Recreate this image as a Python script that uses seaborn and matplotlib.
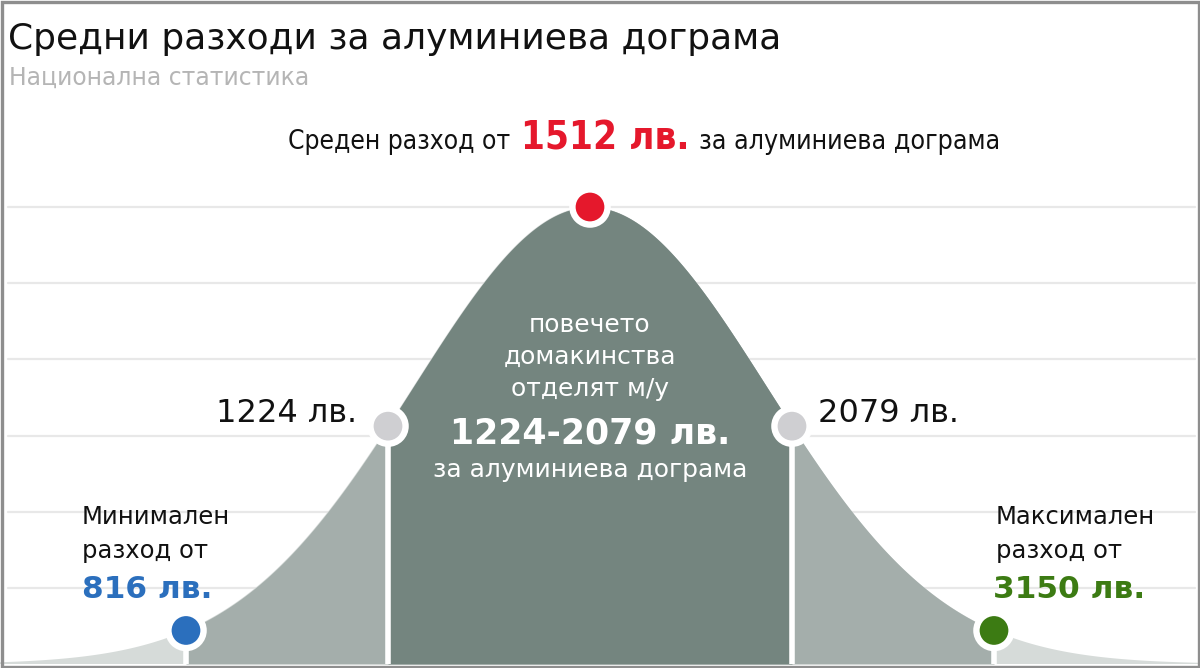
import numpy as np
import matplotlib.pyplot as plt
import seaborn as sns
from matplotlib.patches import Rectangle

# ---- data ----
title = 'Средни разходи за алуминиева дограма'
subtitle = 'Национална статистика'
point_names = ['min', 'low', 'mean', 'high', 'max']
amounts = [816, 1224, 1512, 2079, 3150]          # лв.
band_pos = [-2, -1, 0, 1, 2]                      # where each amount sits on the bell (bands from the middle)
dot_colors = ['#2b6fbd', '#cfcfd2', '#e5182c', '#cfcfd2', '#3c7b13']
bell_spread = 0.875                               # width of the drawn bell, in bands
grid_levels = [1/6, 2/6, 3/6, 4/6, 5/6, 1.0]

W, H = 1200, 668

sns.set_theme(style='white')
plt.rcParams['font.family'] = ['DejaVu Sans']


def bell(x):
    return np.exp(-np.asarray(x, dtype=float) ** 2 / (2 * bell_spread ** 2))


fig = plt.figure(figsize=(W / 100, H / 100), dpi=100)
fig.patch.set_facecolor('white')

# axes over the whole figure: middle of the bell at x=590px, one band = 202px
ax = fig.add_axes([0, 0, 1, 1])
ax.set_xlim(-590 / 202, (W - 590) / 202)
ax.set_ylim(-4 / 457, (H - 4) / 457)
ax.axis('off')

for g in grid_levels:
    ax.axhline(g, xmin=8 / W, xmax=1195 / W, color='#e8e8e8', lw=1.6, zorder=0)

# bell areas
xs = np.linspace(-3.0, 3.1, 900)
ax.fill_between(xs, 0, bell(xs), color='#d6dbd9', lw=0, zorder=1)
xm = np.linspace(band_pos[0], band_pos[-1], 600)
ax.fill_between(xm, 0, bell(xm), color='#a4aeab', lw=0, zorder=2)
xc = np.linspace(band_pos[1], band_pos[3], 400)
ax.fill_between(xc, 0, bell(xc), color='#74857f', lw=0, zorder=3)

# white stems under the side dots
stems = [p for p in band_pos if p != 0]
ax.vlines(stems, 0, bell(stems), color='white', lw=4, zorder=4)

# dots with white ring
dots = dict(pos=band_pos, height=bell(band_pos), name=point_names)
sns.scatterplot(x=dots['pos'], y=dots['height'], hue=dots['name'],
                palette=dict(zip(point_names, dot_colors)), s=640,
                edgecolor='white', linewidth=4.6, legend=False, zorder=5,
                ax=ax, clip_on=False)


def T(px, py, s, **kw):
    return fig.text(px / W, 1 - py / H, s, **kw)


renderer = fig.canvas.get_renderer()


def fit(t, width_px):
    # scale the font so the text spans the width seen in the reference
    w = t.get_window_extent(renderer).width
    t.set_fontsize(t.get_fontsize() * width_px / w)


# title block
fit(T(8, 39, title, fontsize=25, color='#111111', va='center', ha='left'), 775)
fit(T(9, 78, subtitle, fontsize=15, color='#b5b5b5', va='center', ha='left'), 301)

# top annotation built from three pieces
top_pieces = [
    (288, 222, 'Среден разход от', dict(fontsize=20, color='#111111')),
    (521, 169, f'{amounts[2]} лв.', dict(fontsize=30, color=dot_colors[2], fontweight='bold')),
    (699, 301, 'за алуминиева дограма', dict(fontsize=20, color='#111111')),
]
for x0, wpx, s, kw in top_pieces:
    fit(T(x0, 149, s, va='baseline', ha='left', fontstretch='condensed', **kw), wpx)

# labels by the 1224 / 2079 dots
T(357, 413, f'{amounts[1]} лв.', fontsize=23, color='#111111', va='center', ha='right')
T(818, 413, f'{amounts[3]} лв.', fontsize=23, color='#111111', va='center', ha='left')

# central text
T(590, 325, 'повечето', fontsize=18, color='white', ha='center', va='center')
T(590, 357, 'домакинства', fontsize=18, color='white', ha='center', va='center')
T(590, 389, 'отделят м/у', fontsize=18, color='white', ha='center', va='center')
T(590, 433, f'{amounts[1]}-{amounts[3]} лв.', fontsize=25, fontweight='bold',
  color='white', ha='center', va='center')
T(590, 470, 'за алуминиева дограма', fontsize=18, color='white', ha='center', va='center')

# min / max
T(82, 517, 'Минимален', fontsize=17.5, color='#111111', va='center', ha='left')
T(82, 551, 'разход от', fontsize=17.5, color='#111111', va='center', ha='left')
T(82, 590, f'{amounts[0]} лв.', fontsize=22.5, fontweight='bold', color=dot_colors[0],
  va='center', ha='left')
T(996, 517, 'Максимален', fontsize=17.5, color='#111111', va='center', ha='left')
T(996, 551, 'разход от', fontsize=17.5, color='#111111', va='center', ha='left')
T(993, 590, f'{amounts[4]} лв.', fontsize=22.5, fontweight='bold', color=dot_colors[4],
  va='center', ha='left')

# outer frame
fig.patches.append(Rectangle((1.5 / W, 1.5 / H), 1 - 3 / W, 1 - 3 / H,
                             transform=fig.transFigure, fill=False,
                             edgecolor='#8e8e8e', lw=2.4, zorder=10))

fig.savefig('out.png', dpi=100)
